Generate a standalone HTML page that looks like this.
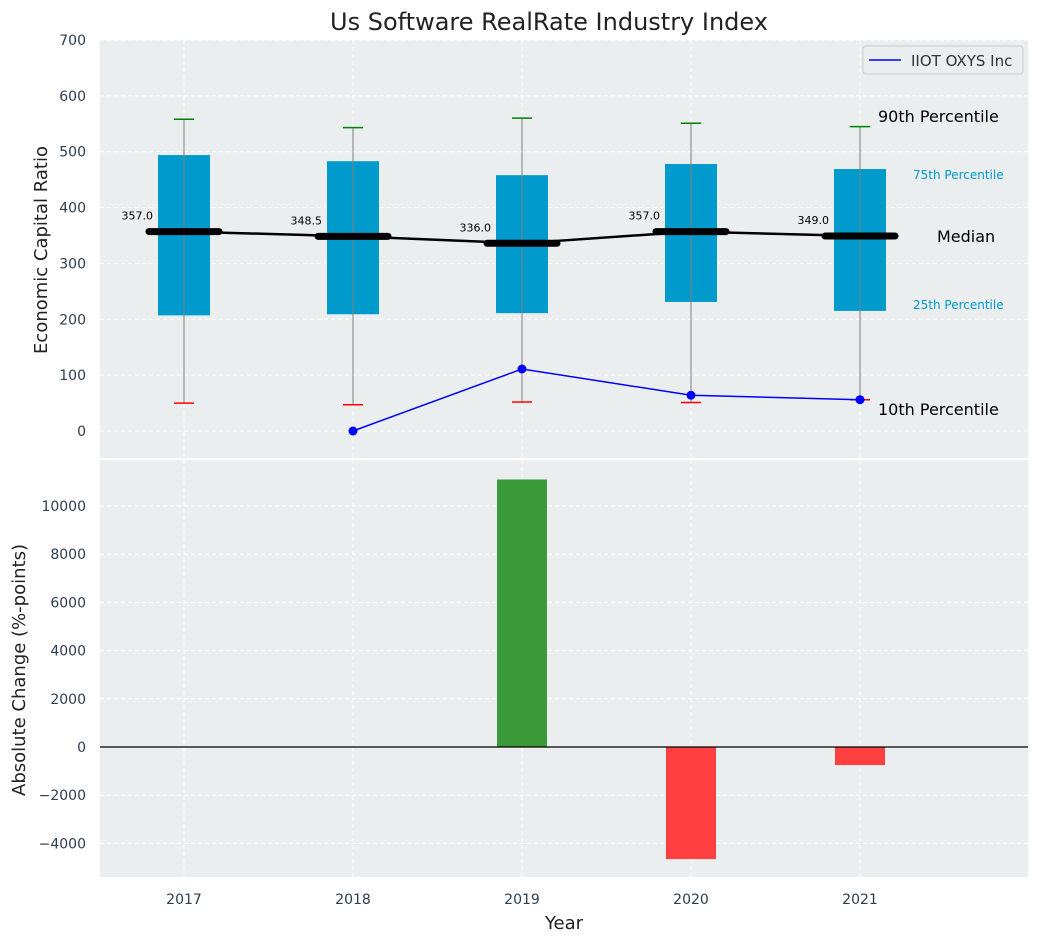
<!DOCTYPE html>
<html><head><meta charset="utf-8"><style>
body{margin:0;background:#fff;font-family:"Liberation Sans","DejaVu Sans",sans-serif}
svg text{font-family:"DejaVu Sans","Liberation Sans",sans-serif}
</style></head><body>
<svg id="c" width="1039" height="942" xmlns="http://www.w3.org/2000/svg"></svg>
<script>
const years=[2017,2018,2019,2020,2021];
const p10=[50,47,52,51,56];
const p25=[207,209,211,231,215];
const med=[357,348.5,336,357,349];
const p75=[494,483,458,478,469];
const p90=[558,543,560,551,545];
const compYears=[2018,2019,2020,2021];
const compVals=[0,111,64,56];
const chgYears=[2019,2020,2021];
const chgVals=[11100,-4650,-750];
const topTicks=[0,100,200,300,400,500,600,700];
const botTicks=[-4000,-2000,0,2000,4000,6000,8000,10000];

const NS="http://www.w3.org/2000/svg";
const svg=document.getElementById('c');
function el(t,a,txt){const e=document.createElementNS(NS,t);for(const k in a)e.setAttribute(k,a[k]);if(txt!==undefined)e.textContent=txt;svg.appendChild(e);return e;}
const X=v=>184+(v-2017)*169;
const Y1=v=>431-v*0.5586;
const Y2=v=>747-v*0.0241;

let e;
e=el('rect',{x:100,y:40,width:928,height:418,fill:'#eaeeee'});

e=el('rect',{x:100,y:460,width:928,height:417,fill:'#eaeeee'});


// grids
topTicks.forEach(t=>{
 el('line',{x1:100,x2:1028,y1:Y1(t),y2:Y1(t),stroke:'#fff','stroke-dasharray':'4,3','stroke-width':1});
 e=el('text',{x:86,y:Y1(t)+5,'text-anchor':'end','font-size':14,fill:'#2c3e50'},t);
 
});
botTicks.forEach(t=>{
 el('line',{x1:100,x2:1028,y1:Y2(t),y2:Y2(t),stroke:'#fff','stroke-dasharray':'4,3','stroke-width':1});
 e=el('text',{x:86,y:Y2(t)+5,'text-anchor':'end','font-size':14,fill:'#2c3e50'},t<0?'\u2212'+(-t):t);
 
});
years.forEach(y=>{
 el('line',{x1:X(y),x2:X(y),y1:40,y2:458,stroke:'#fff','stroke-dasharray':'4,3'});
 el('line',{x1:X(y),x2:X(y),y1:460,y2:877,stroke:'#fff','stroke-dasharray':'4,3'});
 e=el('text',{x:X(y),y:904,'text-anchor':'middle','font-size':14,fill:'#2c3e50'},y);
 
});

// boxes
years.forEach((y,i)=>{
 const x=X(y);
 e=el('rect',{x:x-26,y:Y1(p75[i]),width:52,height:Y1(p25[i])-Y1(p75[i]),fill:'#009acd'});
 
 e=el('line',{x1:x,x2:x,y1:Y1(p90[i]),y2:Y1(p10[i]),stroke:'#808080','stroke-width':1});
 
 e=el('line',{x1:x-10,x2:x+10,y1:Y1(p90[i]),y2:Y1(p90[i]),stroke:'green','stroke-width':1.5});
 
 e=el('line',{x1:x-10,x2:x+10,y1:Y1(p10[i]),y2:Y1(p10[i]),stroke:'red','stroke-width':1.5});
 
 e=el('line',{x1:x-35,x2:x+35,y1:Y1(med[i]),y2:Y1(med[i]),stroke:'#000','stroke-width':7,'stroke-linecap':'round'});
 
 e=el('text',{x:x-31,y:Y1(med[i])-12,'text-anchor':'end','font-size':11,fill:'#000'},med[i].toFixed(1));
 
});
e=el('polyline',{points:years.map((y,i)=>X(y)+','+Y1(med[i])).join(' '),fill:'none',stroke:'#000','stroke-width':2.5});

e=el('polyline',{points:compYears.map((y,i)=>X(y)+','+Y1(compVals[i])).join(' '),fill:'none',stroke:'blue','stroke-width':1.5});

compYears.forEach((y,i)=>{e=el('circle',{cx:X(y),cy:Y1(compVals[i]),r:4.5,fill:'blue'});
 });

// annotations
[[878,122,'90th Percentile',16,'#000'],[913,179,'75th Percentile',12,'#009acd'],[937,242,'Median',16,'#000'],[913,309,'25th Percentile',12,'#009acd'],[878,415,'10th Percentile',16,'#000']].forEach(a=>{
 e=el('text',{x:a[0],y:a[1],'font-size':a[3],fill:a[4]},a[2]);
 
});

// legend
e=el('rect',{x:863,y:46,width:160,height:28,fill:'#eaeeee',stroke:'#ccc',rx:3});

el('line',{x1:869,x2:901,y1:60,y2:60,stroke:'blue','stroke-width':1.5});
e=el('text',{x:911,y:66,'font-size':15,fill:'#333'},'IIOT OXYS Inc');


// bars
chgYears.forEach((y,i)=>{
 const v=chgVals[i];
 e=el('rect',{x:X(y)-25,y:Math.min(Y2(v),Y2(0)),width:50,height:Math.abs(Y2(v)-Y2(0)),fill:v>=0?'#3a9a3a':'#ff4040'});
 
});
el('line',{x1:100,x2:1028,y1:Y2(0),y2:Y2(0),stroke:'#000','stroke-width':1.2});

// titles
e=el('text',{x:549,y:30,'text-anchor':'middle','font-size':24,fill:'#222'},'Us Software RealRate Industry Index');

e=el('text',{x:47,y:250,'text-anchor':'middle','font-size':18,fill:'#222',transform:'rotate(-90 47 250)'},'Economic Capital Ratio');

e=el('text',{x:25,y:670,'text-anchor':'middle','font-size':18,fill:'#222',transform:'rotate(-90 25 670)'},'Absolute Change (%-points)');

e=el('text',{x:564,y:929,'text-anchor':'middle','font-size':18,fill:'#222'},'Year');

</script>
</body></html>
